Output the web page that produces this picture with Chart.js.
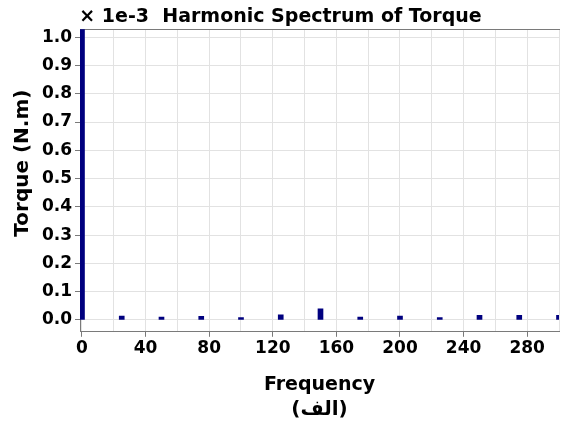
<!DOCTYPE html>
<html>
<head>
<meta charset="utf-8">
<script src="https://cdn.jsdelivr.net/npm/chart.js@4/dist/chart.umd.min.js"></script>
<style>
  html, body { margin: 0; padding: 0; background: #fff; }
  #wrap { width: 561px; height: 439px; }
</style>
</head>
<body>
<div id="wrap"><canvas id="torque"></canvas></div>
<script>
// harmonic spectrum, values in units of 1e-3 N.m
const freqs = [0, 25, 50, 75, 100, 125, 150, 175, 200, 225, 250, 275, 300];
const torque = [1.05, 0.014, 0.010, 0.013, 0.008, 0.018, 0.039, 0.010, 0.014, 0.008, 0.016, 0.016, 0.016];

const xMin = -1.25, xMax = 300;
const yMin = -0.042, yMax = 1.028;

const fam = "'DejaVu Sans', sans-serif";
const axisGray = '#7a7a7a';
const gridGray = '#e2e2e2';

let chart = new Chart("torque", {
  type: "bar",
  data: {
    datasets: [{
      data: freqs.map((f, i) => ({x: f, y: torque[i]})),
      backgroundColor: "#00007f",
      borderWidth: 0,
      barThickness: 5
    }]
  },
  options: {
    responsive: true,
    maintainAspectRatio: false,
    animation: false,
    layout: { padding: 0 },
    plugins: {
      legend: { display: false },
      tooltip: { enabled: false },
      title: {
        display: true,
        text: "× 1e-3  Harmonic Spectrum of Torque",
        color: "#000",
        font: { family: fam, size: 19, weight: "bold" },
        padding: { top: 6, bottom: 0.5 }
      },
      subtitle: {
        display: true,
        position: "bottom",
        fullSize: false,
        text: "(الف)",
        color: "#000",
        font: { family: fam, size: 20, weight: "bold" },
        padding: { top: 1, bottom: 17 }
      }
    },
    scales: {
      x: {
        type: "linear",
        offset: false,
        min: xMin,
        max: xMax,
        ticks: {
          stepSize: 20,
          includeBounds: false,
          autoSkip: false,
          maxRotation: 0,
          padding: 2,
          color: "#000",
          font: { family: fam, size: 17, weight: "bold" },
          callback: v => (v % 40 === 0 && v < 300) ? String(v) : ""
        },
        grid: {
          offset: false,
          color: gridGray,
          tickLength: 5,
          tickColor: ctx => (ctx.tick && ctx.tick.value % 40 === 0 && ctx.tick.value < 300) ? axisGray : "rgba(0,0,0,0)"
        },
        border: { color: axisGray, width: 1 },
        title: {
          display: true,
          text: "Frequency",
          color: "#000",
          font: { family: fam, size: 19, weight: "bold" },
          padding: { top: 12, bottom: 1 }
        }
      },
      x2: {
        type: "linear",
        position: "top",
        offset: false,
        min: xMin,
        max: xMax,
        ticks: { display: false },
        grid: { offset: false, drawOnChartArea: false, drawTicks: false },
        border: { color: axisGray, width: 1 },
        afterFit: s => { s.height = 0; }
      },
      y: {
        min: yMin,
        max: yMax,
        ticks: {
          stepSize: 0.1,
          includeBounds: false,
          padding: 3,
          color: "#000",
          font: { family: fam, size: 17, weight: "bold" },
          callback: v => v.toFixed(1)
        },
        grid: { color: gridGray, tickLength: 5, tickColor: axisGray },
        border: { color: axisGray, width: 1 },
        title: {
          display: true,
          text: "     Torque (N.m)",
          color: "#000",
          font: { family: fam, size: 20, weight: "bold" },
          padding: { top: 11, bottom: 0 }
        },
        afterFit: s => { s.width = 80; }
      }
    }
  }
});
</script>
</body>
</html>
